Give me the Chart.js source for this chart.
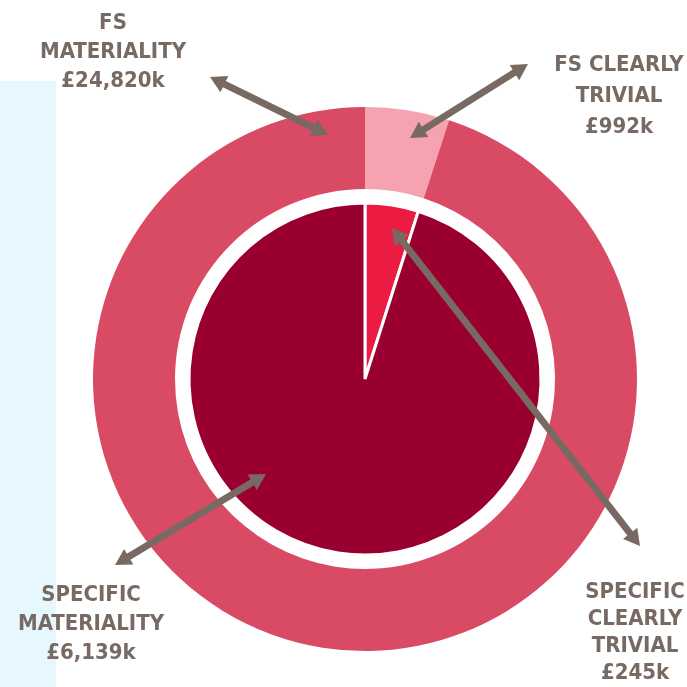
<!DOCTYPE html>
<html>
<head>
<meta charset="utf-8">
<script src="https://cdn.jsdelivr.net/npm/chart.js@4/dist/chart.umd.min.js"></script>
<style>
  html, body { margin: 0; padding: 0; background: #fff; }
  #wrap { position: relative; width: 687px; height: 687px; overflow: hidden; }
  #band { position: absolute; left: 0; top: 81px; width: 56px; height: 606px; background: #E6F7FD; }
  #mycanvas { position: absolute; left: 0; top: 0; }
  .lbl { position: absolute; width: 200px; text-align: center; color: #776A63;
         font-family: "DejaVu Sans Condensed", "DejaVu Sans", sans-serif; font-stretch: condensed;
         font-weight: bold; font-size: 22px; line-height: 29px; }
</style>
</head>
<body>
<div id="wrap">
  <div id="band"></div>
  <canvas id="mycanvas" width="687" height="687"></canvas>
  <div class="lbl" id="lblFsMat" style="left:13px; top:7px;"></div>
  <div class="lbl" id="lblFsTriv" style="left:519px; top:48px; line-height:31px;"></div>
  <div class="lbl" id="lblSpMat" style="left:-9px; top:579px;"></div>
  <div class="lbl" id="lblSpTriv" style="left:535px; top:577px; line-height:27px;"></div>
</div>
<script>
// outer ring (FS) and inner pie (specific), shares
var ringLabels = ['FS CLEARLY TRIVIAL', 'FS MATERIALITY'];
var ringShares = [5, 95];
var ringColors = ['#F5A3B0', '#D94B65'];

var pieLabels = ['SPECIFIC CLEARLY TRIVIAL', 'SPECIFIC MATERIALITY'];
var pieShares = [4.9, 95.1];
var pieColors = ['#EB1B42', '#99002F'];

// amounts shown in the callouts
var amounts = ['£24,820k', '£992k', '£6,139k', '£245k'];

function setLabel(id, lines) {
    document.getElementById(id).innerHTML = lines.join('<br>');
}
setLabel('lblFsMat', ['FS', 'MATERIALITY', amounts[0]]);
setLabel('lblFsTriv', ['FS CLEARLY', 'TRIVIAL', amounts[1]]);
setLabel('lblSpMat', ['SPECIFIC', 'MATERIALITY', amounts[2]]);
setLabel('lblSpTriv', ['SPECIFIC', 'CLEARLY', 'TRIVIAL', amounts[3]]);

// double headed callout arrows
var arrows = [
    [210, 77, 328, 135],
    [528, 64, 410, 138],
    [392, 228, 640, 546],
    [115, 565, 266, 474]
];

function head(ctx, x, y, ang) {
    ctx.save();
    ctx.translate(x, y);
    ctx.rotate(ang);
    ctx.beginPath();
    ctx.moveTo(0, 0);
    ctx.lineTo(-16, -9);
    ctx.lineTo(-16, 9);
    ctx.closePath();
    ctx.fill();
    ctx.restore();
}

var arrowPlugin = {
    id: 'arrows',
    afterDraw: function(chart) {
        var ctx = chart.ctx;
        ctx.save();
        ctx.strokeStyle = '#786A62';
        ctx.fillStyle = '#786A62';
        ctx.lineWidth = 7;
        arrows.forEach(function(a) {
            var ang = Math.atan2(a[3] - a[1], a[2] - a[0]);
            var c = Math.cos(ang) * 12, s = Math.sin(ang) * 12;
            ctx.beginPath();
            ctx.moveTo(a[0] + c, a[1] + s);
            ctx.lineTo(a[2] - c, a[3] - s);
            ctx.stroke();
            head(ctx, a[2], a[3], ang);
            head(ctx, a[0], a[1], ang + Math.PI);
        });
        ctx.restore();
    }
};

var ctx = document.getElementById('mycanvas');
var chart = new Chart(ctx, {
    type: 'pie',
    data: {
        labels: ringLabels,
        datasets: [
            {
                label: 'FS',
                data: ringShares,
                backgroundColor: ringColors,
                borderWidth: 0,
                weight: 82
            },
            {
                label: 'gap',
                data: [1],
                backgroundColor: 'rgba(0,0,0,0)',
                borderWidth: 0,
                weight: 14
            },
            {
                label: 'Specific',
                data: pieShares,
                backgroundColor: pieColors,
                borderColor: '#ffffff',
                borderWidth: 3,
                weight: 176
            }
        ]
    },
    options: {
        responsive: false,
        animation: false,
        cutout: 0,
        layout: { padding: { left: 93, right: 50, top: 107, bottom: 36 } },
        plugins: {
            legend: { display: false },
            tooltip: { enabled: false }
        },
        events: []
    },
    plugins: [arrowPlugin]
});
</script>
</body>
</html>
